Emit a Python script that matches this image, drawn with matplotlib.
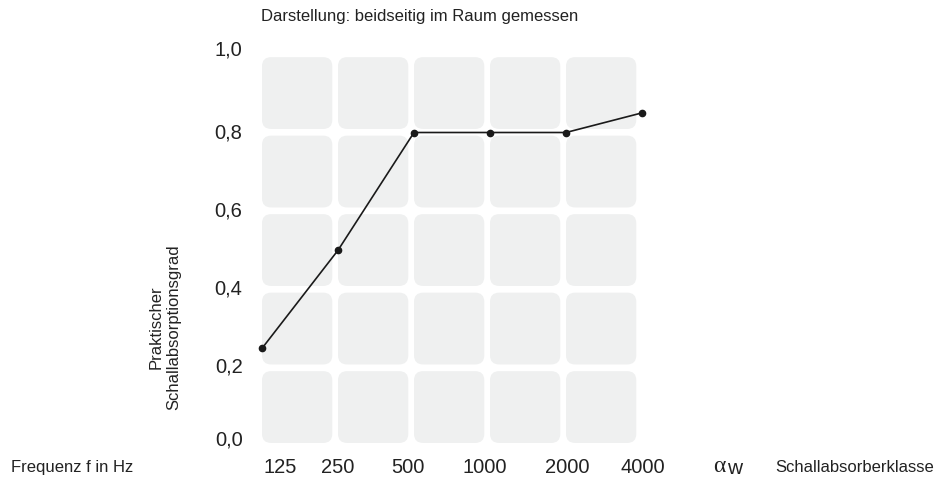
import matplotlib
matplotlib.use("Agg")
import matplotlib.pyplot as plt
from matplotlib.patches import FancyBboxPatch
from matplotlib.transforms import ScaledTranslation

plt.rcParams['font.family'] = ['Liberation Sans', 'DejaVu Sans']

frequencies = ["125", "250", "500", "1000", "2000", "4000"]
absorption = [0.25, 0.50, 0.80, 0.80, 0.80, 0.85]
ytick_values = [0.0, 0.2, 0.4, 0.6, 0.8, 1.0]
ytick_labels = ["0,0", "0,2", "0,4", "0,6", "0,8", "1,0"]
title = "Darstellung: beidseitig im Raum gemessen"
ylabel = "Praktischer\nSchallabsorptionsgrad"
xlabel_left = "Frequenz f in Hz"
xlabel_right = "Schallabsorberklasse"

# small layout nudges of tick labels (pixels)
xlabel_dx = [18, 0, -6, -5, 1, 1]
ylabel_dy = [9, 3, 3, 2, 2, 6]

W, H = 950, 486
fig = plt.figure(figsize=(W / 100, H / 100), dpi=100)
ax = fig.add_axes([262 / W, (H - 446.5) / H, 380 / W, 392.5 / H])
ax.set_xlim(0, len(frequencies) - 1)
ax.set_ylim(0, 1)

# rounded grey tiles
ncols = len(frequencies) - 1
nrows = 5
pxx = 380 / ncols
pxy = 392.5
for i in range(ncols):
    for j in range(nrows):
        p = FancyBboxPatch((i, j * 0.2 + 0.009), 0.925, 0.183,
                           boxstyle="round,pad=0,rounding_size=0.12",
                           mutation_aspect=pxx / pxy,
                           facecolor="#eff0f0", edgecolor="none", zorder=0)
        ax.add_patch(p)

xs = list(range(len(frequencies)))
ax.plot(xs, absorption, color="#1a1a1a", lw=1.2, marker="o", ms=4.5,
        clip_on=False, zorder=3)

for s in ax.spines.values():
    s.set_visible(False)
ax.set_xticks(xs)
ax.set_xticklabels(frequencies, fontsize=14.5, color="#222222")
ax.set_yticks(ytick_values)
ax.set_yticklabels(ytick_labels, fontsize=14.5, color="#222222")
ax.tick_params(length=0)
ax.tick_params(axis='y', pad=14)
ax.tick_params(axis='x', pad=8)

for lab, dx in zip(ax.get_xticklabels(), xlabel_dx):
    lab.set_transform(lab.get_transform() +
                      ScaledTranslation(dx / 100, 0, fig.dpi_scale_trans))
for lab, dy in zip(ax.get_yticklabels(), ylabel_dy):
    lab.set_transform(lab.get_transform() +
                      ScaledTranslation(0, dy / 100, fig.dpi_scale_trans))

fig.text(261 / W, 1 - 17 / H, title, fontsize=12, va="center", ha="left",
         color="#222222")
fig.text(165 / W, 1 - 327 / H, ylabel, fontsize=12, rotation=90,
         va="center", ha="center", color="#222222", linespacing=1.2)
fig.text(11 / W, 1 - 467 / H, xlabel_left, fontsize=12, va="center",
         ha="left", color="#222222")
fig.text(713 / W, 1 - 472 / H, "α", fontsize=17, va="baseline",
         ha="left", color="#222222", family=["Liberation Serif", "DejaVu Serif"])
fig.text(727 / W, 1 - 474 / H, "w", fontsize=15, va="baseline",
         ha="left", color="#222222")
fig.text(775 / W, 1 - 467 / H, xlabel_right, fontsize=12, va="center",
         ha="left", color="#222222")

fig.savefig("out.png", dpi=100)
